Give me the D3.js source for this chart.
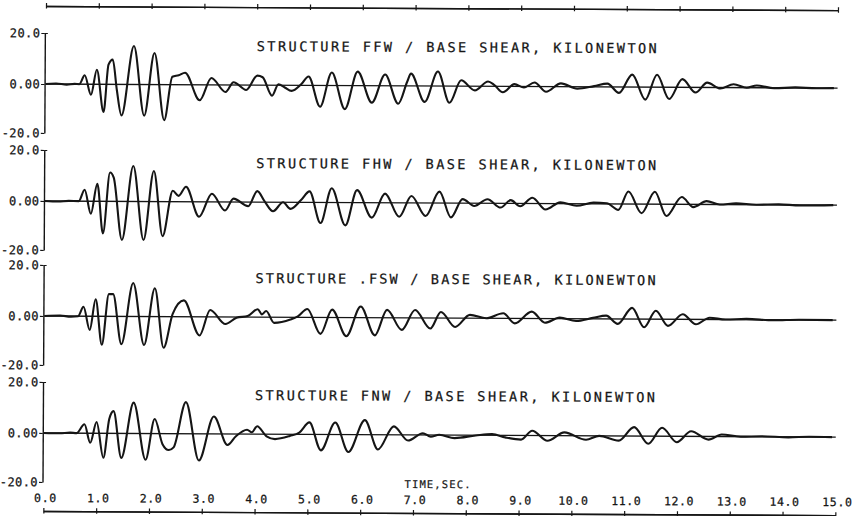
<!DOCTYPE html>
<html>
<head>
<meta charset="utf-8">
<script src="https://cdn.jsdelivr.net/npm/d3@7"></script>
<style>
  body { margin: 0; background: #fff; }
  svg text { font-family: "DejaVu Sans Mono", monospace; fill: #151515; }
</style>
</head>
<body>
<div id="chart"></div>
<script>
// time axis
const timeTicks = d3.range(0, 16);
const timeLabels = ["0.0","1.0","2.0","3.0","4.0","5.0","6.0","7.0","8.0","9.0","10.0","11.0","12.0","13.0","14.0","15.0"];
const yTicks = [-20, 0, 20];
const yLabels = ["-20.0", "0.00", "20.0"];

const titles = [
  "STRUCTURE FFW / BASE SHEAR, KILONEWTON",
  "STRUCTURE FHW / BASE SHEAR, KILONEWTON",
  "STRUCTURE .FSW / BASE SHEAR, KILONEWTON",
  "STRUCTURE FNW / BASE SHEAR, KILONEWTON"
];

// base shear traces, [time s, kN]
const ffw = [[0,0],[0.2,0.2],[0.4,-0.2],[0.55,0.1],[0.64,0],[0.74,3.5],[0.86,-4.3],[0.97,5.7],[1.10,-11.3],[1.19,7.7],[1.27,9.7],[1.35,-2.3],
  [1.44,-12.7],[1.67,15.1],[1.87,-12.7],[2.06,12.4],[2.25,-14.5],[2.40,3.1],[2.52,3.7],[2.64,4.7],[2.92,-6.3],[3.14,2.7],[3.41,-2.9],
  [3.56,1.1],[3.80,-2],[4.01,3.7],[4.11,3.1],[4.29,-4.3],[4.41,0.4],[4.53,-0.9],[4.66,-2.3],[4.84,0.4],[4.98,3.5],[5.20,-8.7],[5.42,5.1],
  [5.67,-9.6],[5.91,5.5],[6.18,-6.9],[6.43,4.4],[6.68,-7.3],[6.85,1.7],[6.92,4.8],[7.18,-6.5],[7.43,5.7],[7.65,-6.8],[7.87,2.3],
  [8.13,-1.7],[8.38,1.9],[8.50,0.5],[8.66,-2.4],[8.88,0.9],[9.06,-0.4],[9.26,1.6],[9.48,-2.1],[9.76,1.3],[10.07,-0.8],[10.39,0.3],
  [10.64,1.3],[10.86,-2.4],[11.11,4.9],[11.36,-5.1],[11.58,4.9],[11.81,-4.8],[12.06,3.2],[12.31,-2.1],[12.53,1.9],[12.78,-0.4],
  [13.03,1.3],[13.28,0],[13.47,0.9],[13.8,-0.2],[14.2,0.2],[14.6,-0.1],[14.93,0]];

const fhw = [[0,0],[0.25,-0.2],[0.45,0.1],[0.64,0],[0.75,4.5],[0.87,-5.1],[0.99,6.9],[1.10,-13.1],[1.23,11.3],[1.30,9.3],[1.46,-15.7],
  [1.67,13.9],[1.87,-15.7],[2.06,12.0],[2.23,-14.1],[2.42,4.3],[2.53,2.3],[2.67,5.9],[2.92,-6.1],[3.16,3.2],[3.41,-3.5],[3.57,1.3],
  [3.85,-1.7],[4.02,4.3],[4.16,0.3],[4.32,-3.7],[4.51,0],[4.65,-2.7],[4.85,0.9],[5.01,4.3],[5.22,-8.4],[5.43,5.6],[5.69,-9.3],[5.91,4.9],
  [6.19,-6.1],[6.44,3.6],[6.71,-5.7],[6.94,2.7],[7.21,-5.3],[7.47,4.5],[7.69,-5.8],[7.91,1.6],[8.13,-1.1],[8.38,1.6],[8.63,-1.7],
  [8.82,1.3],[9.00,-1.1],[9.23,2.3],[9.48,-2.4],[9.76,0.5],[10.07,-0.8],[10.39,0.5],[10.64,0.3],[10.86,-2.4],[11.05,4.9],[11.30,-3.7],
  [11.55,4.9],[11.77,-4.8],[12.06,2.9],[12.28,-1.1],[12.53,1.3],[12.78,0],[13.09,0.5],[13.47,0],[13.9,0.2],[14.3,-0.2],[14.93,0]];

const fsw = [[0,0],[0.3,0.2],[0.5,-0.2],[0.64,0],[0.74,3.7],[0.86,-5.6],[0.97,6.7],[1.09,-11.6],[1.22,8.7],[1.30,8.7],[1.46,-11.3],
  [1.68,13.1],[1.89,-11.6],[2.09,11.1],[2.26,-12.7],[2.43,1.1],[2.64,6.4],[2.94,-7.6],[3.14,2.7],[3.43,-2.9],[3.64,-0.3],[3.85,0.4],
  [4.04,3.1],[4.12,1.1],[4.20,2.4],[4.35,-2.3],[4.66,-0.9],[4.80,0.4],[4.98,3.3],[5.23,-6.7],[5.45,3.1],[5.72,-7.6],[5.99,4.4],
  [6.26,-7.2],[6.49,3.1],[6.77,-4.9],[7.02,3.1],[7.31,-4.3],[7.51,2.4],[7.78,-3.6],[8.06,1.3],[8.37,0],[8.69,2],[8.91,-2],[9.23,2.7],
  [9.48,-1.7],[9.76,0.4],[10.07,-0.9],[10.39,0.4],[10.64,1.3],[10.86,-2],[11.13,4.4],[11.36,-3.3],[11.58,3.3],[11.81,-2.7],[12.09,2],
  [12.34,-2],[12.60,0.7],[12.9,0],[13.3,0.3],[13.8,-0.2],[14.3,0.1],[14.93,0]];

const fnw = [[0,0],[0.3,-0.1],[0.5,0.2],[0.62,0],[0.77,3.5],[0.88,-3.9],[1.00,4.4],[1.13,-10],[1.24,5.7],[1.32,8.7],[1.47,-10],[1.70,12.1],
  [1.93,-10.7],[2.10,5.7],[2.25,-4.3],[2.37,-6.7],[2.46,-5.6],[2.69,12.4],[2.94,-10.9],[3.22,6.8],[3.48,-4.5],[3.64,-0.9],[3.85,1.7],
  [3.94,0.7],[4.04,3.1],[4.22,-0.9],[4.38,-2],[4.66,-0.7],[4.84,0.7],[5.03,4.7],[5.25,-6.5],[5.52,4.7],[5.77,-7.1],[6.08,5.7],[6.33,-6],
  [6.63,3.3],[6.90,-2.3],[7.18,0.7],[7.33,-0.7],[7.49,0.1],[7.78,-1.2],[8.18,-0.1],[8.49,0.5],[8.74,-0.8],[9.04,-1.7],[9.25,1.9],
  [9.54,-2.1],[9.86,1.3],[10.27,-1.6],[10.52,0],[10.89,-1.9],[11.18,3.5],[11.45,-3.1],[11.71,3.3],[11.99,-2.4],[12.26,2.0],[12.59,-1.3],
  [12.84,0.8],[13.2,0],[13.6,0.2],[14.1,-0.2],[14.5,0.1],[14.93,0]];

const series = [ffw, fhw, fsw, fnw];

// layout
const W = 865, H = 516;
const x0 = 46, x1 = 838;
const zeros = [84, 201, 316, 433];
const above = 51, below = 49;
const topLineY = 6, bottomLineY = 511;

const svg = d3.select("#chart").append("svg")
  .attr("width", W).attr("height", H);

svg.append("rect").attr("width", W).attr("height", H).attr("fill", "#fff");

// the scanned sheet sits a little crooked
const g = svg.append("g").attr("transform", `rotate(0.3, ${x0}, ${topLineY})`);

const x = d3.scaleLinear().domain([0, 15]).range([x0, x1]);

const ink = "#151515";

function styleAxis(sel) {
  sel.selectAll("path").attr("stroke", ink).attr("stroke-width", 1.4);
  sel.selectAll("line").attr("stroke", ink).attr("stroke-width", 1.2);
  sel.selectAll("text").attr("fill", ink).attr("font-size", 12)
    .attr("stroke", ink).attr("stroke-width", 0.25)
    .attr("font-family", '"DejaVu Sans Mono", monospace');
}

// top frame line with crossed ticks
g.append("g").attr("transform", `translate(0,${topLineY})`)
  .call(d3.axisTop(x).tickValues(timeTicks).tickSize(3).tickSizeOuter(0).tickFormat(""))
  .call(styleAxis);
g.append("g").attr("transform", `translate(0,${topLineY})`)
  .call(d3.axisBottom(x).tickValues(timeTicks).tickSize(2.5).tickSizeOuter(0).tickFormat(""))
  .call(styleAxis);

// bottom time axis, labels sit above the line
g.append("g").attr("transform", `translate(0,${bottomLineY})`)
  .call(d3.axisTop(x).tickValues(timeTicks).tickSize(3).tickSizeOuter(0).tickPadding(6)
    .tickFormat((d, i) => timeLabels[i]))
  .call(styleAxis)
  .call(a => a.selectAll("text").attr("dx", 1.5).attr("letter-spacing", 0.6).attr("font-size", 11.5));
g.append("g").attr("transform", `translate(0,${bottomLineY})`)
  .call(d3.axisBottom(x).tickValues(timeTicks).tickSize(2.5).tickSizeOuter(0).tickFormat(""))
  .call(styleAxis);

g.append("text")
  .attr("x", 440).attr("y", 486)
  .attr("text-anchor", "middle")
  .attr("font-size", 10.5)
  .attr("stroke", ink).attr("stroke-width", 0.2)
  .attr("textLength", 66).attr("lengthAdjust", "spacing")
  .text("TIME,SEC.");

const line = d3.line().curve(d3.curveMonotoneX);

series.forEach((data, i) => {
  const z = zeros[i];
  const y = d3.scaleLinear().domain([-20, 0, 20]).range([z + below, z, z - above]);
  const p = g.append("g");

  // zero line
  p.append("line")
    .attr("x1", x(0)).attr("x2", x(15))
    .attr("y1", y(0)).attr("y2", y(0))
    .attr("stroke", ink).attr("stroke-width", 1.3);

  // amplitude axis
  p.append("g").attr("transform", `translate(${x0 - 1},0)`)
    .call(d3.axisLeft(y).tickValues(yTicks).tickSize(3.5).tickSizeOuter(0).tickPadding(1)
      .tickFormat((d, k) => yLabels[k]))
    .call(styleAxis)
    .call(a => a.selectAll("text").attr("letter-spacing", 0.4));
  p.append("g").attr("transform", `translate(${x0 - 1},0)`)
    .call(d3.axisRight(y).tickValues([20]).tickSize(3).tickSizeOuter(0).tickFormat(""))
    .call(styleAxis)
    .call(a => a.select("path").remove());

  p.append("path")
    .datum(data)
    .attr("fill", "none")
    .attr("stroke", ink)
    .attr("stroke-width", 2.1)
    .attr("stroke-linejoin", "round")
    .attr("d", line.x(d => x(d[0])).y(d => y(d[1])));

  p.append("text")
    .attr("x", 257).attr("y", z - 39)
    .attr("dy", "0.36em")
    .attr("font-size", 13.5)
    .attr("stroke", ink).attr("stroke-width", 0.25)
    .attr("textLength", 400).attr("lengthAdjust", "spacing")
    .text(titles[i]);
});
</script>
</body>
</html>
